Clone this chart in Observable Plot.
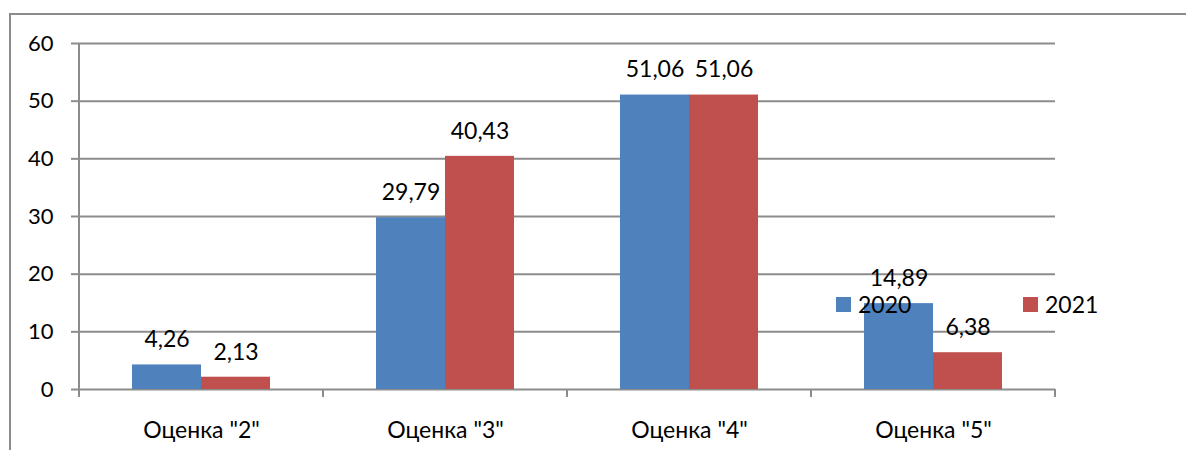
<!DOCTYPE html>
<html>
<head>
<meta charset="utf-8">
<script src="https://cdn.jsdelivr.net/npm/d3@7"></script>
<script src="https://cdn.jsdelivr.net/npm/@observablehq/plot@0.6"></script>
<style>
  html, body { margin: 0; padding: 0; background: #fff; }
  #wrap { position: relative; width: 1186px; height: 450px; overflow: hidden; font-family: Lato, "Open Sans", sans-serif; }
  #border { position: absolute; left: 9px; top: 13px; right: -5px; bottom: -5px; border-top: 2px solid #8c8c8c; border-left: 2px solid #8c8c8c; }
  #chart { position: absolute; left: 0; top: 0; }
  .leg { position: absolute; top: 290px; display: flex; align-items: center; font-size: 23px; color: #000; }
  .leg span.sw { display: inline-block; width: 15px; height: 15px; margin-right: 7px; }
</style>
</head>
<body>
<div id="wrap">
  <div id="border"></div>
  <div id="chart"></div>
  <div class="leg" style="left:836px"><span class="sw" style="background:#4F81BD"></span>2020</div>
  <div class="leg" style="left:1023px"><span class="sw" style="background:#C0504D"></span>2021</div>
</div>
<script>
const categories = ['Оценка "2"', 'Оценка "3"', 'Оценка "4"', 'Оценка "5"'];
const years = ["2020", "2021"];
const values2020 = [4.26, 29.79, 51.06, 14.89];
const values2021 = [2.13, 40.43, 51.06, 6.38];
const yTicks = [0, 10, 20, 30, 40, 50, 60];
const colors = ["#4F81BD", "#C0504D"];

const data = categories.flatMap((c, i) => [
  {cat: c, year: years[0], value: values2020[i]},
  {cat: c, year: years[1], value: values2021[i]}
]);
const fmt = v => v.toFixed(2).replace(".", ",");

const plot = Plot.plot({
  width: 1186,
  height: 450,
  marginLeft: 78,
  marginRight: 131,
  marginTop: 43,
  marginBottom: 61,
  style: {fontFamily: "Lato, 'Open Sans', sans-serif", fontSize: "22px", color: "#000", background: "transparent"},
  fx: {domain: categories, padding: 0, label: null},
  x: {domain: years, paddingInner: 0, paddingOuter: 0.745, axis: null},
  y: {domain: [0, 60], label: null},
  color: {domain: years, range: colors},
  marks: [
    Plot.ruleY(yTicks, {stroke: "#8c8c8c", strokeWidth: 2}),
    Plot.barY(data, {fx: "cat", x: "year", y: "value", fill: "year"}),
    Plot.text(data, {fx: "cat", x: "year", y: "value", text: d => fmt(d.value), dy: -25, fontSize: 23, fill: "#000"}),
    Plot.axisY({ticks: yTicks, tickSize: 8, tickPadding: 18, stroke: "#8c8c8c", strokeWidth: 2, fill: "#000", fontSize: 22, anchor: "left", label: null}),
    Plot.axisFx({anchor: "bottom", tickSize: 0, tickPadding: 32, fontSize: 23, fill: "#000", label: null})
  ]
});
document.getElementById("chart").appendChild(plot);

// axis line and category boundary ticks
const fx = plot.scale("fx");
const y = plot.scale("y");
const bw = fx.bandwidth;
const svg = d3.select(plot);
const y0 = y.apply(0), yTop = y.apply(60);
const bounds = categories.map(c => fx.apply(c)).concat([fx.apply(categories[categories.length - 1]) + bw]);
const g = svg.append("g").attr("stroke", "#8c8c8c").attr("stroke-width", 2);
g.append("line").attr("x1", bounds[0]).attr("x2", bounds[0]).attr("y1", yTop).attr("y2", y0 + 8);
bounds.forEach(b => g.append("line").attr("x1", b).attr("x2", b).attr("y1", y0).attr("y2", y0 + 8));
</script>
</body>
</html>
